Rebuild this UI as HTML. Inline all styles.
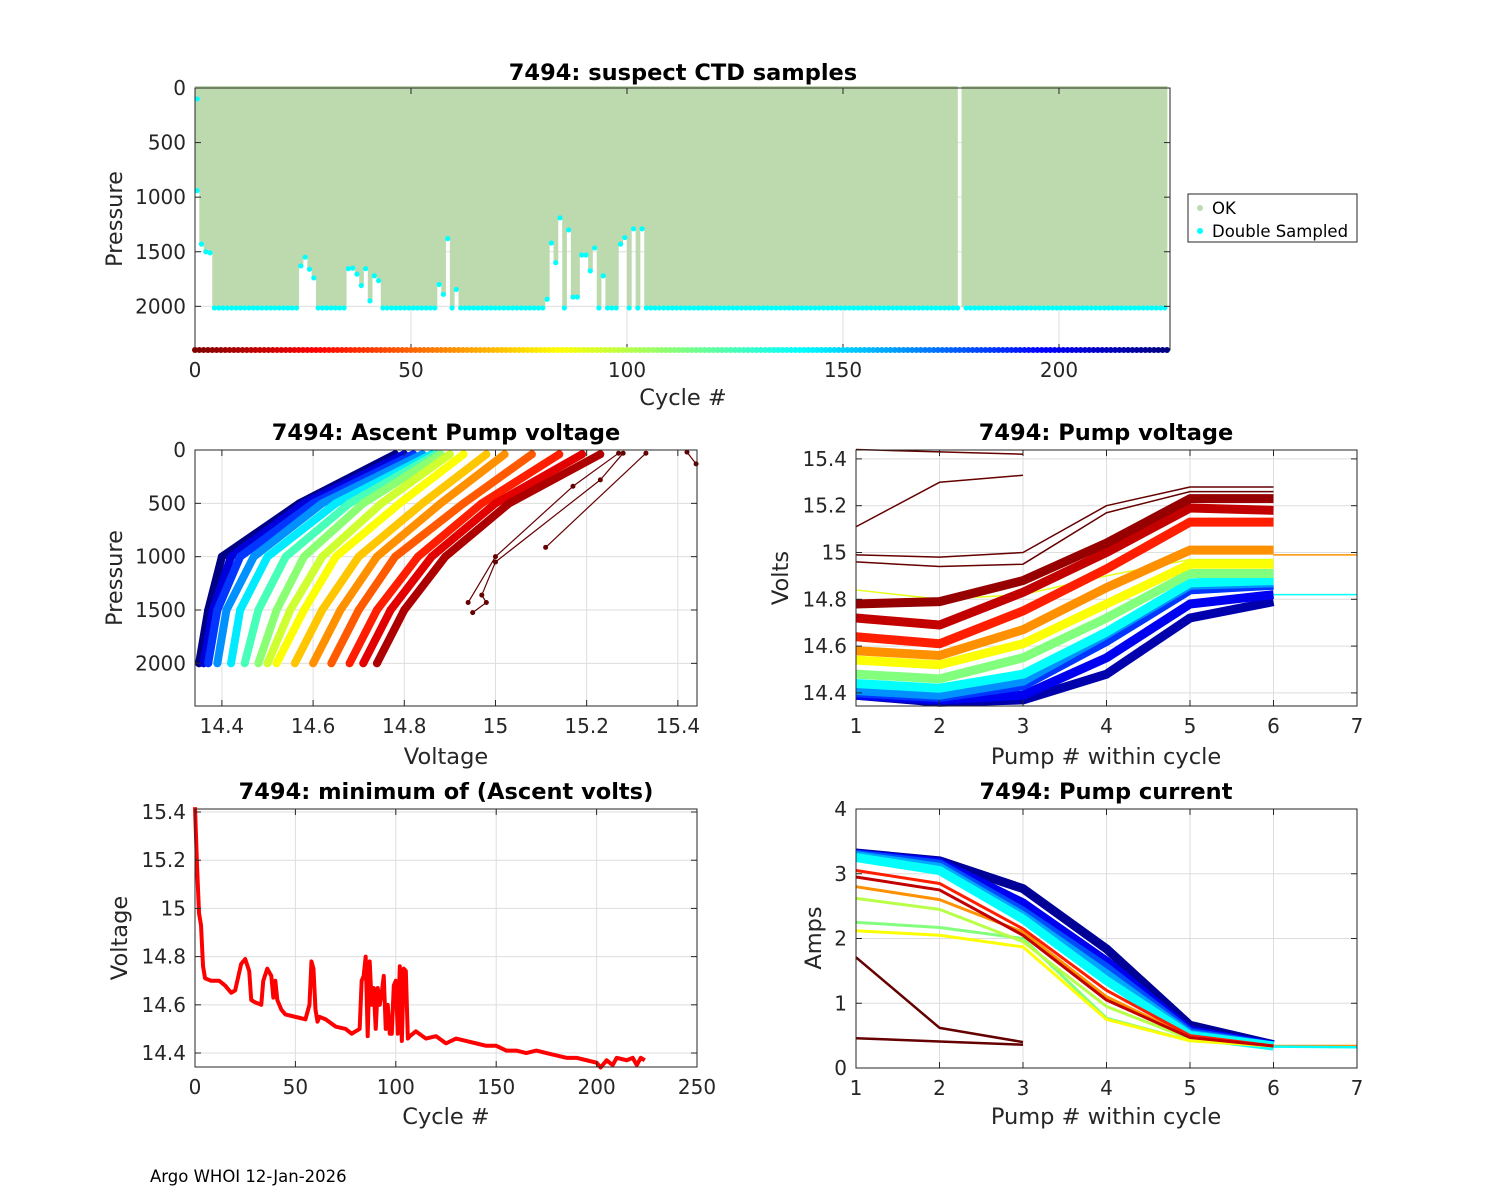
<!DOCTYPE html>
<html><head><meta charset="utf-8"><style>
body{margin:0;background:#fff}
svg{display:block;font-family:"DejaVu Sans","Liberation Sans",sans-serif}
.t{font-weight:bold;font-size:22.5px;fill:#000}
.tk{font-size:20px;fill:#262626}
.al{font-size:22.5px;fill:#262626}
</style></head><body>
<svg id="fig" width="1500" height="1200" viewBox="0 0 1500 1200" xmlns="http://www.w3.org/2000/svg">
<rect width="1500" height="1200" fill="#fff"/>
<text x="150" y="1182" font-size="16.5" fill="#000">Argo WHOI 12-Jan-2026</text>
</svg>
<script>
// ---------- DATA ----------
const nCycles = 226;
const defaultDepth = 2010;
const shallowCycles = [0,1,2,3,24,25,26,27,35,36,37,38,39,40,41,42,56,57,58,60,81,82,83,84,86,87,88,89,90,91,92,94,98,99,101,103,177];
const shallowDepths = [940,1430,1500,1510,1630,1550,1660,1740,1655,1650,1705,1810,1655,1950,1720,1765,1800,1890,1380,1845,1935,1420,1600,1190,1300,1915,1915,1530,1530,1675,1465,1720,1430,1370,1290,1290,0];
const minCycles = [0,1,2,3,4,5,8,12,15,18,20,23,25,27,28,30,33,34,36,38,39,40,41,43,45,50,55,57,58,59,60,61,62,65,70,75,78,80,82,83,84,85,86,87,88,89,90,91,92,93,94,95,96,97,98,99,100,101,102,103,104,105,106,107,110,115,120,125,130,135,140,145,150,155,160,165,170,175,180,185,190,195,200,202,205,208,210,215,218,220,222,224];
const minVolts = [15.42,15.18,14.98,14.93,14.76,14.71,14.70,14.70,14.68,14.65,14.66,14.77,14.79,14.74,14.62,14.61,14.60,14.70,14.75,14.72,14.63,14.70,14.62,14.58,14.56,14.55,14.54,14.60,14.78,14.75,14.58,14.53,14.55,14.54,14.51,14.50,14.48,14.49,14.50,14.70,14.72,14.80,14.47,14.78,14.60,14.67,14.50,14.67,14.60,14.65,14.72,14.50,14.60,14.48,14.48,14.68,14.70,14.48,14.76,14.45,14.75,14.74,14.46,14.47,14.49,14.46,14.47,14.44,14.46,14.45,14.44,14.43,14.43,14.41,14.41,14.40,14.41,14.40,14.39,14.38,14.38,14.37,14.36,14.34,14.37,14.35,14.38,14.37,14.38,14.35,14.38,14.37];
const ascPressures = [2000,1500,1000,500,40];
const ascCycles = [224,205,185,165,145,125,110,95,85,72,60,48,35,22,10];
const ascVolts = [
 [14.35,14.37,14.40,14.57,14.78],[14.36,14.38,14.42,14.58,14.80],[14.37,14.39,14.44,14.60,14.82],
 [14.39,14.41,14.47,14.62,14.84],[14.42,14.44,14.50,14.65,14.86],[14.45,14.48,14.54,14.68,14.87],
 [14.48,14.52,14.58,14.71,14.88],[14.50,14.55,14.62,14.75,14.90],[14.52,14.58,14.65,14.79,14.93],
 [14.56,14.62,14.70,14.84,14.98],[14.60,14.66,14.74,14.88,15.02],[14.64,14.70,14.78,14.93,15.08],
 [14.68,14.74,14.83,14.97,15.14],[14.71,14.77,14.86,15.00,15.19],[14.74,14.80,14.89,15.03,15.23]];
const oddAscV = [[15.11,15.33],[14.94,15.00,15.17,15.27],[14.95,14.98,14.97,15.00,15.23,15.28],[15.42,15.44]];
const oddAscP = [[913,30],[1430,1000,340,30],[1525,1430,1360,1050,280,30],[20,130]];
const pvCycles = [215,200,185,165,140,112,90,85,60,35,15,5];
const pvVolts = [
 [14.39,14.36,14.37,14.48,14.72,14.79],[14.39,14.37,14.39,14.55,14.78,14.82],[14.40,14.38,14.43,14.62,14.84,14.86],
 [14.41,14.39,14.45,14.65,14.86,14.87],[14.44,14.42,14.48,14.66,14.87,14.88],[14.48,14.46,14.55,14.72,14.91,14.91],
 [14.84,14.80,14.82,14.90,14.97,14.97],[14.54,14.52,14.61,14.78,14.95,14.95],[14.58,14.56,14.67,14.85,15.01,15.01],
 [14.64,14.61,14.75,14.93,15.13,15.13],[14.72,14.69,14.83,15.00,15.19,15.18],[14.78,14.79,14.88,15.04,15.23,15.23]];
const pvOddCycles = [0,1,2,3,60,140];
const pvOdd = [[15.11,15.30,15.33],[15.44,15.43,15.42],[14.99,14.98,15.00,15.20,15.28,15.28],[14.96,14.94,14.95,15.17,15.26,15.26],[null,null,null,null,null,14.99,14.99],[null,null,null,null,null,14.82,14.82]];
const pcCycles = [220,200,180,160,140,112,100,85,60,35,15];
const pcAmps = [
 [3.32,3.20,2.77,1.84,0.66,0.36],[3.31,3.18,2.55,1.65,0.58,0.35],[3.30,3.15,2.42,1.55,0.55,0.34],
 [3.28,3.10,2.35,1.45,0.52,0.34],[3.25,3.05,2.30,1.35,0.50,0.34],[2.25,2.17,2.00,0.77,0.42,0.34],
 [2.62,2.45,1.95,0.95,0.45,0.34],[2.12,2.05,1.87,0.75,0.42,0.34],[2.80,2.60,2.10,1.10,0.48,0.34],
 [3.05,2.85,2.15,1.20,0.50,0.34],[2.95,2.75,2.05,1.05,0.47,0.34]];
const pcOddCycles = [1,2,60,140];
const pcOdd = [[1.71,0.62,0.40],[0.46,0.41,0.36],[null,null,null,null,null,0.34,0.34],[null,null,null,null,null,0.33,0.32]];
const legendLabels = ["OK","Double Sampled"];

// ---------- HELPERS ----------
const svg = document.getElementById('fig');
const NS = 'http://www.w3.org/2000/svg';
function mk(tag, attrs, parent){const e=document.createElementNS(NS,tag);for(const k in attrs)e.setAttribute(k,attrs[k]);(parent||svg).appendChild(e);return e;}
function jet(t){const c=v=>Math.round(255*Math.max(0,Math.min(1,v)));return `rgb(${c(1.5-Math.abs(4*t-3))},${c(1.5-Math.abs(4*t-2))},${c(1.5-Math.abs(4*t-1))})`;}
function cycColor(c){return jet(1-c/225);}
function scale(d0,d1,r0,r1){return v=>r0+(v-d0)/(d1-d0)*(r1-r0);}

function axes(name,b,xd,yd,xt,yt,xl,yl,flipY){
  const g=mk('g',{});
  
  
  const X=scale(xd[0],xd[1],b.x0,b.x1);
  const Y=flipY?scale(yd[0],yd[1],b.y0,b.y1):scale(yd[0],yd[1],b.y1,b.y0);
  const grid=mk('g',{},g);
  
  
  xt.forEach(v=>mk('line',{x1:X(v),x2:X(v),y1:b.y0,y2:b.y1,stroke:'#dedede','stroke-width':1},grid));
  yt.forEach(v=>mk('line',{x1:b.x0,x2:b.x1,y1:Y(v),y2:Y(v),stroke:'#dedede','stroke-width':1},grid));
  const plot=mk('g',{},g);
  
  
  const front=mk('g',{},g);
  const ticks=mk('g',{},front);
  
  
  xt.forEach(v=>{mk('line',{x1:X(v),x2:X(v),y1:b.y1,y2:b.y1-6,stroke:'#262626'},ticks);mk('line',{x1:X(v),x2:X(v),y1:b.y0,y2:b.y0+6,stroke:'#262626'},ticks);
    const t=mk('text',{x:X(v),y:b.y1+27,'text-anchor':'middle',class:'tk'},ticks);t.textContent=(xl?xl(v):v);});
  yt.forEach(v=>{mk('line',{x1:b.x0,x2:b.x0+6,y1:Y(v),y2:Y(v),stroke:'#262626'},ticks);mk('line',{x1:b.x1,x2:b.x1-6,y1:Y(v),y2:Y(v),stroke:'#262626'},ticks);
    const t=mk('text',{x:b.x0-9,y:Y(v)+7,'text-anchor':'end',class:'tk'},ticks);t.textContent=(yl?yl(v):v);});
  const box=mk('rect',{x:b.x0,y:b.y0,width:b.x1-b.x0,height:b.y1-b.y0,fill:'none',stroke:'#262626','stroke-width':1},front);
  
  
  return {X,Y,plot,front};
}
function label(txt,x,y,cls,name,rot){
  const t=mk('text',{x,y,'text-anchor':'middle',class:cls});
  if(rot)t.setAttribute('transform',`rotate(-90 ${x} ${y})`);
  t.textContent=txt;
  
  
}
function poly(parent,pts,color,w){return mk('polyline',{points:pts.filter(p=>p).map(p=>p.join(',')).join(' '),fill:'none',stroke:color,'stroke-width':w,'stroke-linejoin':'round'},parent);}

// ---------- TOP PLOT ----------
const depth=[];for(let c=0;c<nCycles;c++)depth.push(defaultDepth);
shallowCycles.forEach((c,i)=>depth[c]=shallowDepths[i]);
const A=axes('suspect-ctd-axes',{x0:195,x1:1170,y0:88,y1:350},[0,225.7],[0,2400],[0,50,100,150,200],[0,500,1000,1500,2000],null,null,true);
for(let c=0;c<nCycles-1;c++){
  if(depth[c]<=0)continue;
  const w=(depth[c+1]<=0)?(A.X(c+1)-A.X(c)-1.8):(A.X(c+1)-A.X(c)+0.4);
  const r=mk('rect',{x:A.X(c),y:A.Y(0)-2,width:w,height:A.Y(depth[c])-A.Y(0)+2,fill:'#bddaaf'},A.plot);
  
  
  if(depth[c-1]<=0){ r.setAttribute('x',A.X(c)-2.4); r.setAttribute('width',w+2.4); }
}
for(let c=0;c<nCycles-1;c++){
  if(depth[c]<=0)continue;
  const d=mk('circle',{cx:A.X(c+0.5),cy:A.Y(depth[c]+(depth[c]===defaultDepth?5:0)),r:2.6,fill:'#00ffff'},A.plot);
  
  
}
const c0=mk('circle',{cx:A.X(0.5),cy:A.Y(100),r:2.6,fill:'#00ffff'},A.plot);


for(let c=0;c<nCycles;c++){
  const d=mk('circle',{cx:A.X(c),cy:A.Y(2400),r:3,fill:cycColor(c)},A.front);
  
  
}
label('7494: suspect CTD samples',683,80,'t','top-chart-title');
label('Cycle #',683,405,'al','top-x-axis-title');
label('Pressure',122,219,'al','top-y-axis-title',true);
const lg=mk('g',{});


mk('rect',{x:1188,y:194,width:169,height:48,fill:'#fff',stroke:'#262626'},lg);
const legCols=['#bddaaf','#00ffff'];
legendLabels.forEach((s,i)=>{
  const e=mk('g',{},lg);
  
  
  mk('circle',{cx:1200,cy:208+i*23,r:3,fill:legCols[i]},e);
  const t=mk('text',{x:1212,y:214+i*23,'font-size':16.5,fill:'#000'},e);t.textContent=s;
});

// ---------- MIDDLE LEFT ----------
const B=axes('ascent-pump-voltage-axes',{x0:195,x1:697,y0:450,y1:706},[14.341,15.442],[0,2400],[14.4,14.6,14.8,15,15.2,15.4],[0,500,1000,1500,2000],null,null,true);
ascCycles.forEach((c,i)=>{
  const pts=ascVolts[i].map((v,j)=>[B.X(v),B.Y(ascPressures[j])]);
  const l=poly(B.plot,pts,cycColor(c),8);
  
  
  pts.forEach(p=>mk('circle',{cx:p[0],cy:p[1],r:4,fill:cycColor(c)},B.plot));
});
oddAscV.forEach((vs,i)=>{
  const pts=vs.map((v,j)=>[B.X(v),B.Y(oddAscP[i][j])]);
  const l=poly(B.plot,pts,'#640000',1.2);
  
  
  pts.forEach(p=>mk('circle',{cx:p[0],cy:p[1],r:2.5,fill:'#640000'},B.plot));
});
label('7494: Ascent Pump voltage',446,440,'t','ascent-pump-voltage-title');
label('Voltage',446,764,'al','ascent-x-axis-title');
label('Pressure',122,578,'al','ascent-y-axis-title',true);

// ---------- MIDDLE RIGHT ----------
const C=axes('pump-voltage-axes',{x0:856,x1:1357,y0:450,y1:706},[1,7],[14.344,15.438],[1,2,3,4,5,6,7],[14.4,14.6,14.8,15,15.2,15.4],null,v=>v,false);
pvCycles.forEach((c,i)=>{
  const l=poly(C.plot,pvVolts[i].map((v,j)=>[C.X(j+1),C.Y(v)]),cycColor(c),i===6?1.5:9);
  
  
});
pvOdd.forEach((vs,i)=>{
  const c=pvOddCycles[i];
  const l=poly(C.plot,vs.map((v,j)=>v==null?null:[C.X(j+1),C.Y(v)]),c<5?'#640000':cycColor(c),1.5);
  
  
});
label('7494: Pump voltage',1106,440,'t','pump-voltage-title');
label('Pump # within cycle',1106,764,'al','pump-voltage-x-axis-title');
label('Volts',788,578,'al','pump-voltage-y-axis-title',true);

// ---------- BOTTOM LEFT ----------
const D=axes('min-ascent-volts-axes',{x0:195,x1:697,y0:809,y1:1067},[0,250],[14.342,15.4125],[0,50,100,150,200,250],[14.4,14.6,14.8,15,15.2,15.4],null,v=>v,false);
const ml=poly(D.plot,minCycles.map((c,i)=>[D.X(c),D.Y(minVolts[i])]),'#ff0000',4);


label('7494: minimum of (Ascent volts)',446,799,'t','min-volts-title');
label('Cycle #',446,1124,'al','min-volts-x-axis-title');
label('Voltage',127,938,'al','min-volts-y-axis-title',true);

// ---------- BOTTOM RIGHT ----------
const E=axes('pump-current-axes',{x0:856,x1:1357,y0:809,y1:1068},[1,7],[0,4],[1,2,3,4,5,6,7],[0,1,2,3,4],null,null,false);
pcCycles.forEach((c,i)=>{
  const l=poly(E.plot,pcAmps[i].map((v,j)=>[E.X(j+1),E.Y(v)]),cycColor(c),c>=140?9:3);
  
  
});
pcOdd.forEach((vs,i)=>{
  const c=pcOddCycles[i];
  const l=poly(E.plot,vs.map((v,j)=>v==null?null:[E.X(j+1),E.Y(v)]),c<5?'#640000':cycColor(c),2.5);
  
  
});
label('7494: Pump current',1106,799,'t','pump-current-title');
label('Pump # within cycle',1106,1124,'al','pump-current-x-axis-title');
label('Amps',821,938,'al','pump-current-y-axis-title',true);
</script>
</body></html>
